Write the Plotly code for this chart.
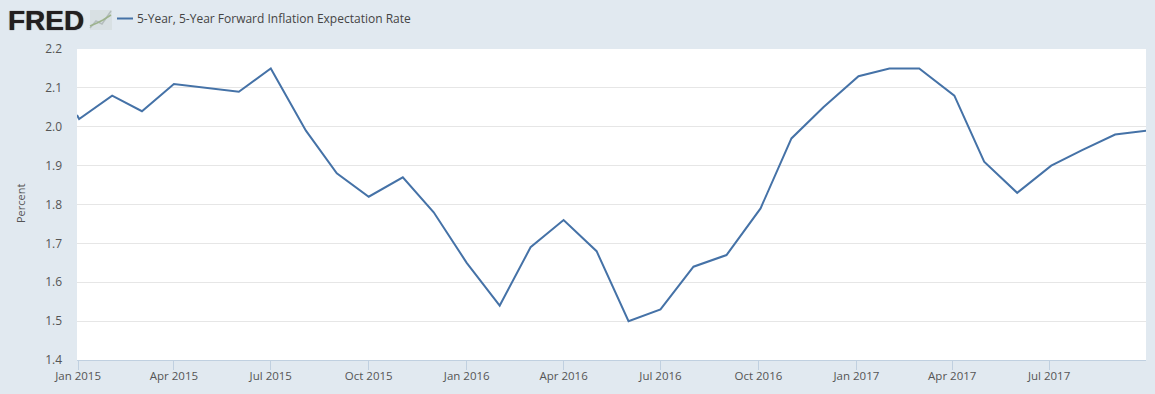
import plotly.graph_objects as go

SERIES_NAME = "5-Year, 5-Year Forward Inflation Expectation Rate"
dates = ["2014-12-31","2015-01-02","2015-02-02","2015-03-02","2015-04-01","2015-05-01","2015-06-01","2015-07-01",
         "2015-08-03","2015-09-01","2015-10-01","2015-11-02","2015-12-01",
         "2016-01-01","2016-02-01","2016-03-01","2016-04-01","2016-05-02","2016-06-01","2016-07-01",
         "2016-08-01","2016-09-01","2016-10-03","2016-11-01","2016-12-01",
         "2017-01-03","2017-02-01","2017-03-01","2017-04-03","2017-05-01","2017-06-01","2017-07-03",
         "2017-08-01","2017-09-01","2017-10-01"]
values = [2.03,2.02,2.08,2.04,2.11,2.10,2.09,2.15,
          1.99,1.88,1.82,1.87,1.78,
          1.65,1.54,1.69,1.76,1.68,1.50,1.53,
          1.64,1.67,1.79,1.97,2.05,
          2.13,2.15,2.15,2.08,1.91,1.83,1.90,
          1.94,1.98,1.99]
tick_dates = ["2015-01-01","2015-04-01","2015-07-01","2015-10-01","2016-01-01","2016-04-01","2016-07-01",
              "2016-10-01","2017-01-01","2017-04-01","2017-07-01"]
tick_labels = ["Jan 2015","Apr 2015","Jul 2015","Oct 2015","Jan 2016","Apr 2016","Jul 2016",
               "Oct 2016","Jan 2017","Apr 2017","Jul 2017"]
y_ticks = [1.4,1.5,1.6,1.7,1.8,1.9,2.0,2.1,2.2]
y_labels = ["1.4","1.5","1.6","1.7","1.8","1.9","2.0","2.1","2.2"]

FONT = "Open Sans"
BG = "#e1e9f0"
LINE = "#4572a7"
W, H = 1155, 394
L, R, T, B = 77, 9, 49, 34

fig = go.Figure(go.Scatter(x=dates, y=values, mode="lines", name=SERIES_NAME,
                           line=dict(color=LINE, width=2), showlegend=False, hoverinfo="x+y"))

def px(x): return (x - L) / (W - L - R)
def py(y): return 1 - (y - T) / (H - T - B)

logo_lines = [
    ("#b4bdbd", [(90,28),(96,21),(102,24),(111,11)]),
    ("#9db38d", [(90,26),(97,23),(103,20),(111,15)]),
]
shapes = [dict(type="rect", xref="paper", yref="paper", x0=px(90), x1=px(112), y0=py(30), y1=py(10),
               fillcolor="#d8e0e3", line=dict(width=0), layer="below"),
          dict(type="line", xref="paper", yref="paper", x0=px(117), x1=px(133), y0=py(18.5), y1=py(18.5),
               line=dict(color=LINE, width=2))]
for color, pts in logo_lines:
    path = "M " + " L ".join(f"{px(a):.5f},{py(b):.5f}" for a, b in pts)
    shapes.append(dict(type="path", xref="paper", yref="paper", path=path, line=dict(color=color, width=1.5)))

fig.update_layout(
    width=W, height=H, autosize=False,
    paper_bgcolor=BG, plot_bgcolor="#ffffff",
    margin=dict(l=L, r=R, t=T, b=B, pad=0),
    font=dict(family=FONT, size=12, color="#555555"),
    showlegend=False,
    xaxis=dict(type="date", range=["2014-12-31","2017-09-30"], tickmode="array", automargin=False,
               tickvals=tick_dates, ticktext=tick_labels, showgrid=False,
               ticks="outside", ticklen=9, tickcolor="#c0d0e0", tickwidth=1,
               showline=True, linecolor="#c0d0e0", linewidth=1, ticklabelstandoff=-4,
               tickfont=dict(size=11.5, color="#555555"), zeroline=False),
    yaxis=dict(range=[1.4,2.2], tickmode="array", tickvals=y_ticks, ticktext=y_labels, automargin=False,
               showgrid=True, gridcolor="#e6e6e6", gridwidth=1, zeroline=False, ticklabelstandoff=14,
               ticks="", ticklen=0, tickfont=dict(size=12, color="#555555"), showline=False),
    shapes=shapes,
    annotations=[
        dict(text="<b>FRED</b>", xref="paper", yref="paper", x=px(6), y=py(20.5),
             xanchor="left", yanchor="middle", showarrow=False,
             font=dict(family="Liberation Sans", size=28, color="#231f20", shadow="0 0 1px #231f20")),
        dict(text=SERIES_NAME, xref="paper", yref="paper", x=px(135), y=py(18.5),
             xanchor="left", yanchor="middle", showarrow=False,
             font=dict(family=FONT, size=12, color="#444444")),
        dict(text="Percent", xref="paper", yref="paper", x=px(20), y=py(204),
             xanchor="center", yanchor="middle", showarrow=False, textangle=-90,
             font=dict(family=FONT, size=11, color="#555555")),
    ],
)

fig.write_html("out.html", config=dict(displayModeBar=False),
               post_script="document.body.style.margin='0';document.body.style.background='#e1e9f0';document.body.style.overflow='hidden';")
